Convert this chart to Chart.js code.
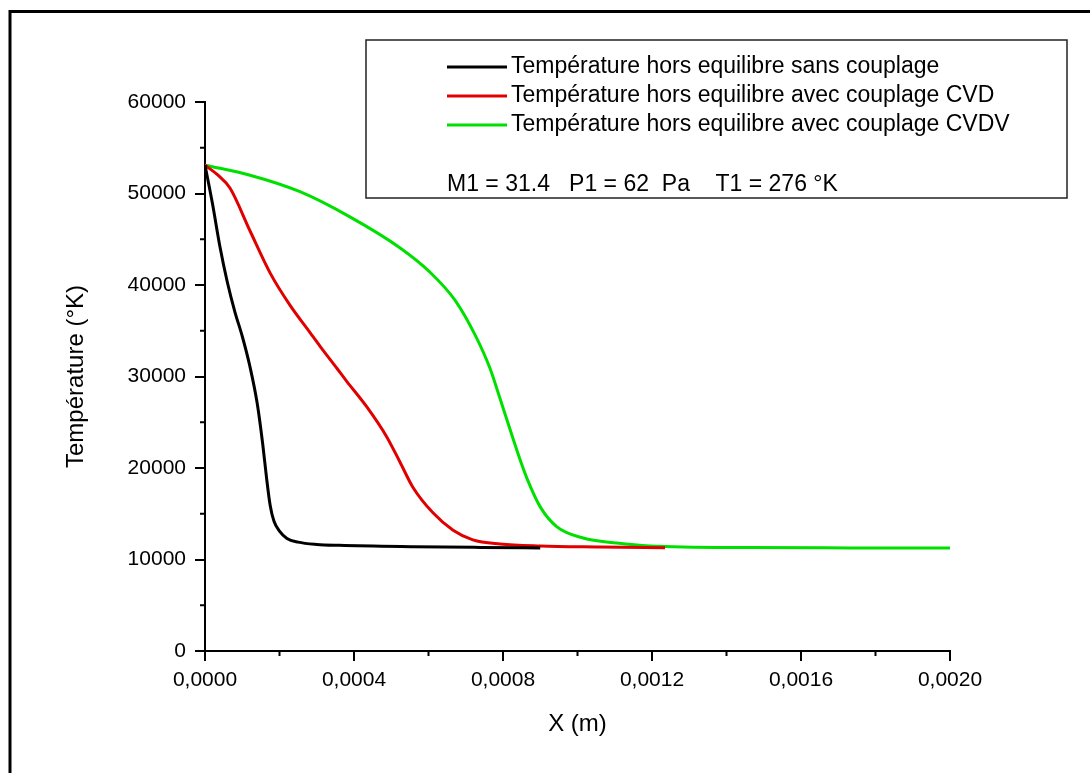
<!DOCTYPE html>
<html>
<head>
  <title>Température hors equilibre</title>
  <style>
    body { margin: 0; background: #fff; }
    #wrap { width: 1090px; height: 773px; }
  </style>
  <script src="https://cdn.jsdelivr.net/npm/chart.js"></script>
</head>
<body>
  <div id="wrap"><canvas id="chart" width="1090" height="773"></canvas></div>
  <script>
    // values
    const seriesLabels = [
      'Température hors equilibre sans couplage',
      'Température hors equilibre avec couplage CVD',
      'Température hors equilibre avec couplage CVDV'
    ];
    const seriesColors = ['#000000', '#e00000', '#00e000'];

    const xBlack = [0, 0.00002, 0.00004, 0.00006, 0.00008, 0.0001, 0.00012, 0.00014, 0.000155,
      0.000165, 0.000175, 0.000185, 0.0002, 0.00022, 0.00025, 0.0003, 0.00036,
      0.00056, 0.00074, 0.0009];
    const yBlack = [53100, 48900, 44200, 40300, 37100, 34400, 31200, 27100, 22600,
      19000, 15900, 14200, 13100, 12300, 11900, 11650, 11550,
      11400, 11320, 11270];

    const xRed = [0, 0.000035, 0.000067, 0.000121, 0.000175, 0.000228, 0.000282, 0.000309, 0.000354,
      0.00038, 0.000434, 0.000488, 0.000524, 0.000558, 0.000612, 0.000666, 0.000719, 0.000792,
      0.0009, 0.00106, 0.001235];
    const yRed = [53100, 52000, 50600, 45900, 41300, 37800, 34800, 33300, 30900,
      29500, 26700, 23400, 20600, 17900, 15100, 13200, 12150, 11700,
      11480, 11370, 11280];

    const xGreen = [0, 0.000121, 0.000255, 0.000389, 0.000524, 0.000604, 0.000671, 0.000725,
      0.000765, 0.000792, 0.000819, 0.000845, 0.000864, 0.0009, 0.000944, 0.001015, 0.001105, 0.001195,
      0.001463, 0.001732, 0.002];
    const yGreen = [53100, 52000, 50200, 47450, 44050, 41400, 38350, 34550,
      30900, 27600, 24200, 21000, 18900, 15750, 13600, 12350, 11800, 11480,
      11300, 11270, 11260];

    const xTicks = [0, 0.0004, 0.0008, 0.0012, 0.0016, 0.002];
    const yTicks = [0, 10000, 20000, 30000, 40000, 50000, 60000];
    const infoText = 'M1 = 31.4   P1 = 62  Pa    T1 = 276 °K';

    const pts = (xs, ys) => xs.map((x, i) => ({ x: x, y: ys[i] }));

    // frame, minor ticks and the boxed legend
    const decor = {
      id: 'decor',
      afterDraw(chart) {
        const ctx = chart.ctx;
        const xs = chart.scales.x, ys = chart.scales.y;
        ctx.save();
        ctx.strokeStyle = '#000';

        // outer frame (only top and left visible)
        ctx.lineWidth = 3;
        ctx.beginPath();
        ctx.moveTo(10, 773); ctx.lineTo(10, 11.5); ctx.lineTo(1090, 11.5);
        ctx.stroke();

        // minor ticks
        ctx.lineWidth = 2;
        ctx.beginPath();
        for (let i = 0; i < yTicks.length - 1; i++) {
          const py = ys.getPixelForValue((yTicks[i] + yTicks[i + 1]) / 2);
          ctx.moveTo(xs.left - 5, py); ctx.lineTo(xs.left, py);
        }
        for (let i = 0; i < xTicks.length - 1; i++) {
          const px = xs.getPixelForValue((xTicks[i] + xTicks[i + 1]) / 2);
          ctx.moveTo(px, ys.bottom); ctx.lineTo(px, ys.bottom + 5);
        }
        ctx.stroke();

        // legend box
        ctx.lineWidth = 1.5;
        ctx.strokeStyle = '#222';
        ctx.strokeRect(366, 40, 701, 158);

        ctx.font = '23px Arial, "Liberation Sans", sans-serif';
        ctx.textBaseline = 'middle';
        ctx.textAlign = 'left';
        chart.data.datasets.forEach((ds, i) => {
          const ly = 67 + i * 29;
          ctx.strokeStyle = ds.borderColor;
          ctx.lineWidth = 3;
          ctx.beginPath();
          ctx.moveTo(447, ly); ctx.lineTo(507, ly);
          ctx.stroke();
          ctx.fillStyle = '#000';
          ctx.fillText(ds.label, 511, ly);
        });
        ctx.fillText(infoText, 447, 185);
        ctx.restore();
      }
    };

    const tickFont = { family: 'Arial, "Liberation Sans", sans-serif', size: 21 };
    const titleFont = { family: 'Arial, "Liberation Sans", sans-serif', size: 24 };

    new Chart(document.getElementById('chart'), {
      type: 'line',
      data: {
        datasets: [
          { label: seriesLabels[0], data: pts(xBlack, yBlack), borderColor: seriesColors[0] },
          { label: seriesLabels[1], data: pts(xRed, yRed), borderColor: seriesColors[1] },
          { label: seriesLabels[2], data: pts(xGreen, yGreen), borderColor: seriesColors[2] }
        ].map(d => Object.assign(d, {
          borderWidth: 3, pointRadius: 0, fill: false, cubicInterpolationMode: 'monotone'
        }))
      },
      options: {
        responsive: false,
        animation: false,
        layout: { padding: { left: 0, top: 102, right: 140, bottom: 0 } },
        plugins: { legend: { display: false }, tooltip: { enabled: false } },
        scales: {
          x: {
            type: 'linear', min: 0, max: 0.002,
            afterBuildTicks: s => { s.ticks = xTicks.map(v => ({ value: v })); },
            afterFit: s => { s.height = 773 - 651; },
            ticks: {
              font: tickFont, color: '#000', padding: 7, maxRotation: 0,
              callback: v => v.toFixed(4).replace('.', ',')
            },
            grid: { drawOnChartArea: false, drawTicks: true, tickLength: 10, color: '#000', lineWidth: 2 },
            border: { display: true, color: '#000', width: 2 },
            title: { display: true, text: 'X (m)', font: titleFont, color: '#000', padding: { top: 0, bottom: 34 } }
          },
          y: {
            type: 'linear', min: 0, max: 60000,
            afterBuildTicks: s => { s.ticks = yTicks.map(v => ({ value: v })); },
            afterFit: s => { s.width = 205; },
            ticks: { font: tickFont, color: '#000', padding: 9, callback: v => String(v) },
            grid: { drawOnChartArea: false, drawTicks: true, tickLength: 10, color: '#000', lineWidth: 2 },
            border: { display: true, color: '#000', width: 2 },
            title: { display: true, text: 'Température (°K)', font: titleFont, color: '#000', padding: { top: 62, bottom: 0 } }
          }
        }
      },
      plugins: [decor]
    });
  </script>
</body>
</html>
